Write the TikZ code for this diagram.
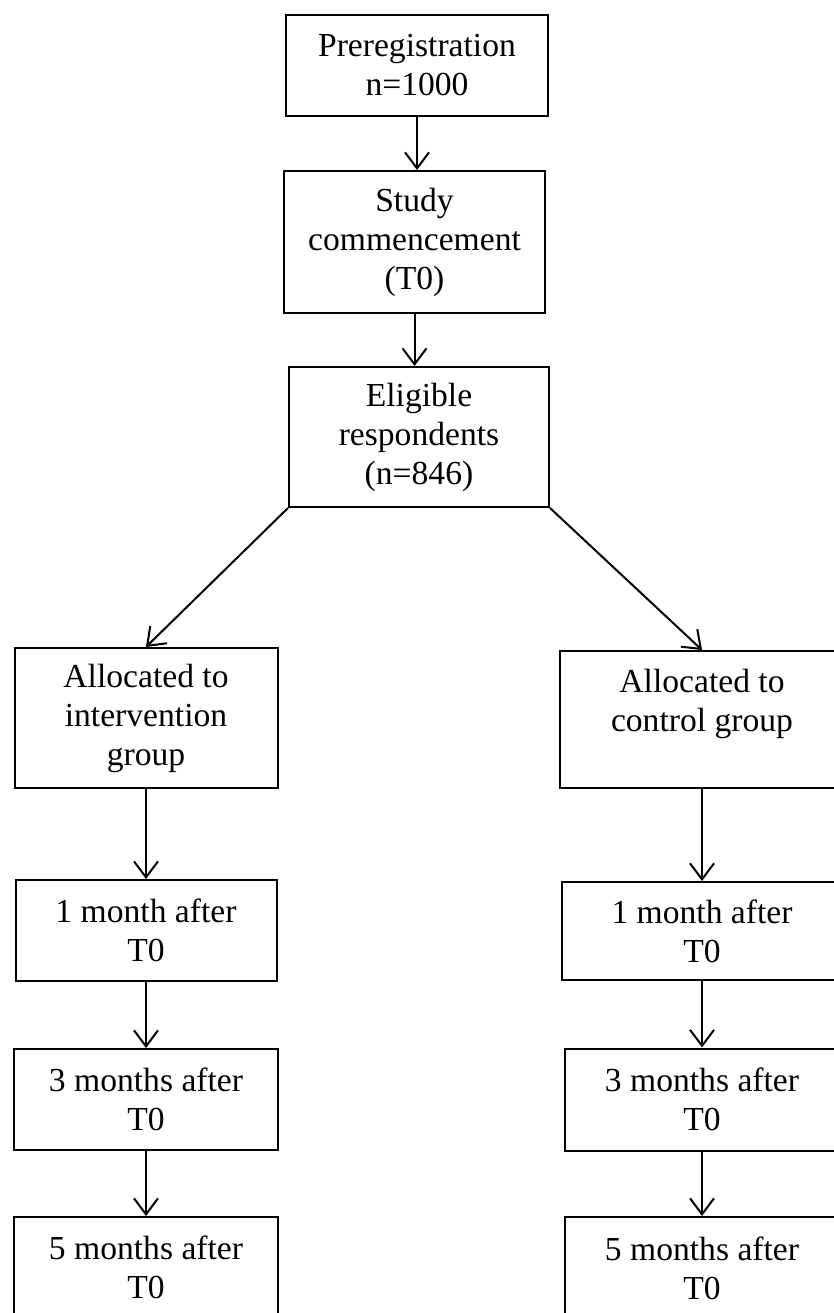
\documentclass[tikz,border=0pt]{standalone}
\usepackage{fontspec}
\setmainfont{Liberation Serif}
\usetikzlibrary{arrows.meta}
\newcommand{\boxfont}{\fontsize{33.6}{39}\selectfont}
\begin{document}
\begin{tikzpicture}[x=1pt,y=-1pt,
  box/.style={draw, line width=2pt, inner sep=0pt, align=center, font=\boxfont},
  arr/.style={line width=2pt, -{Straight Barb[length=16pt,width=24pt,line width=2pt]}}]
\useasboundingbox (0,0) rectangle (834,1313);
\fill[white] (0,0) rectangle (834,1313);
% central column
\node[box, minimum width=262pt, minimum height=101pt] (pre) at (417,65.5) {Preregistration\\n=1000};
\node[box, minimum width=261pt, minimum height=142pt] (study) at (414.5,242) {Study\\commencement\\(T0)};
\node[box, minimum width=260pt, minimum height=140pt] (elig) at (419,437) {Eligible\\respondents\\(n=846)};
% left column
\node[box, minimum width=263pt, minimum height=140pt] (lalloc) at (146,718) {Allocated to\\intervention\\group};
\node[box, minimum width=261pt, minimum height=101pt] (lone) at (146,930.5) {1 month after\\T0};
\node[box, minimum width=264pt, minimum height=101pt] (lthree) at (146,1099.5) {3 months after\\T0};
\node[box, minimum width=264pt, minimum height=101pt] (lfive) at (146,1267.5) {5 months after\\T0};
% right column
\node[box, minimum width=284pt, minimum height=137pt] (ralloc) at (702,719.5) {Allocated to\\control group\\\mbox{}};
\node[box, minimum width=280pt, minimum height=98pt] (rone) at (702,931) {1 month after\\T0};
\node[box, minimum width=274pt, minimum height=102pt] (rthree) at (702,1099.5) {3 months after\\T0};
\node[box, minimum width=274pt, minimum height=102pt] (rfive) at (702,1268) {5 months after\\T0};
% connectors
\draw[arr] (pre.south) -- (pre.south |- study.north);
\draw[arr] (study.south) -- (study.south |- elig.north);
\draw[arr] (elig.south west) -- (lalloc.north);
\draw[arr] (elig.south east) -- (ralloc.north);
\draw[arr] (lalloc.south) -- (lone.north);
\draw[arr] (lone.south) -- (lthree.north);
\draw[arr] (lthree.south) -- (lfive.north);
\draw[arr] (ralloc.south) -- (rone.north);
\draw[arr] (rone.south) -- (rthree.north);
\draw[arr] (rthree.south) -- (rfive.north);
\end{tikzpicture}
\end{document}
